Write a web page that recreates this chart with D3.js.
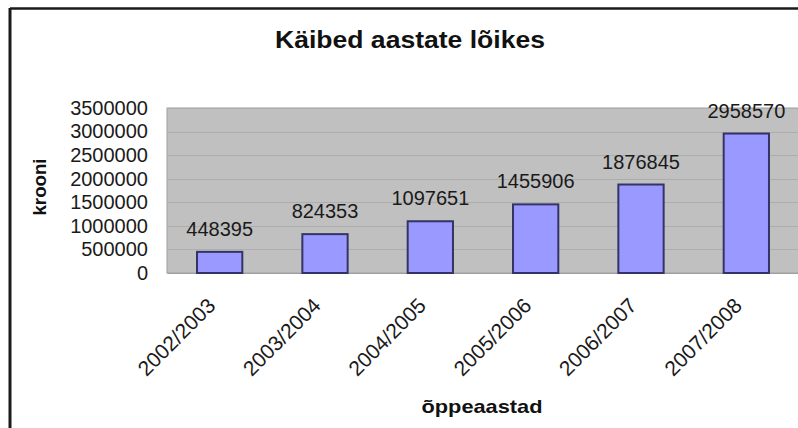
<!DOCTYPE html>
<html><head><meta charset="utf-8">
<script src="https://cdn.jsdelivr.net/npm/d3@7"></script>
<style>body{margin:0;background:#fff}svg{display:block}</style>
</head><body>
<svg id="c" width="798" height="428"></svg>
<script>
const categories = ["2002/2003","2003/2004","2004/2005","2005/2006","2006/2007","2007/2008"];
const values = [448395, 824353, 1097651, 1455906, 1876845, 2958570];
const yTicks = [0,500000,1000000,1500000,2000000,2500000,3000000,3500000];
const title = "Käibed aastate lõikes";
const yTitle = "krooni";
const xTitle = "õppeaastad";

const svg = d3.select("#c");
const font = "'Liberation Sans', Arial, sans-serif";
const m = {left:167, right:799, top:108, bottom:273};

// outer frame
svg.append("line").attr("x1",10).attr("x2",798).attr("y1",8.5).attr("y2",8.5).attr("stroke","#1a1a1a").attr("stroke-width",2.5);
svg.append("line").attr("x1",10).attr("x2",10).attr("y1",8).attr("y2",428).attr("stroke","#1a1a1a").attr("stroke-width",3);

const x = d3.scaleBand().domain(categories).range([m.left, m.right]).paddingInner(0.57).paddingOuter(0.285);
const y = d3.scaleLinear().domain([0,3500000]).range([m.bottom, m.top]);

svg.append("rect").attr("x",m.left).attr("y",m.top).attr("width",m.right-m.left).attr("height",m.bottom-m.top)
  .attr("fill","#c0c0c0").attr("stroke","#a0a0a0").attr("stroke-width",1);

svg.append("g").selectAll("line").data(yTicks.slice(1)).join("line")
  .attr("x1",m.left).attr("x2",m.right).attr("y1",d=>Math.round(y(d))+0.5).attr("y2",d=>Math.round(y(d))+0.5)
  .attr("stroke","#adadad").attr("stroke-width",1);

// y axis
const ya = svg.append("g").attr("transform",`translate(${m.left},0)`)
  .call(d3.axisLeft(y).tickValues(yTicks).tickFormat(d3.format("d")).tickSize(0).tickPadding(19));
ya.select(".domain").remove();
ya.selectAll("text").attr("font-family",font).attr("font-size",20).attr("fill","#1a1a1a");

// x axis
const xa = svg.append("g").attr("transform",`translate(0,${m.bottom})`)
  .call(d3.axisBottom(x).tickSize(0).tickPadding(0));
xa.select(".domain").attr("stroke","#a0a0a0");
xa.selectAll("text").attr("font-family",font).attr("font-size",21).attr("fill","#1a1a1a")
  .attr("text-anchor","end").attr("dy",0).attr("y",0)
  .attr("transform","translate(-3,34) rotate(-45)");

// bars
svg.append("g").selectAll("rect").data(values).join("rect")
  .attr("x",(d,i)=>x(categories[i])).attr("width",x.bandwidth())
  .attr("y",d=>y(d)).attr("height",d=>y(0)-y(d))
  .attr("fill","#9999ff").attr("stroke","#333366").attr("stroke-width",2);

svg.append("g").selectAll("text").data(values).join("text")
  .attr("x",(d,i)=>x(categories[i])+x.bandwidth()/2).attr("y",d=>y(d)-16)
  .attr("text-anchor","middle").attr("font-family",font).attr("font-size",20).attr("fill","#1a1a1a")
  .text(d=>d);

svg.append("text").attr("x",410).attr("y",48).attr("text-anchor","middle")
  .attr("font-family",font).attr("font-weight","bold").attr("font-size",23).attr("fill","#111")
  .attr("textLength",270).attr("lengthAdjust","spacingAndGlyphs").text(title);

svg.append("text").attr("transform","translate(46,187) rotate(-90)").attr("text-anchor","middle")
  .attr("font-family",font).attr("font-weight","bold").attr("font-size",19).attr("fill","#111")
  .attr("textLength",57).attr("lengthAdjust","spacingAndGlyphs").text(yTitle);

svg.append("text").attr("x",482).attr("y",413).attr("text-anchor","middle")
  .attr("font-family",font).attr("font-weight","bold").attr("font-size",19).attr("fill","#111")
  .attr("textLength",121).attr("lengthAdjust","spacingAndGlyphs").text(xTitle);
</script>
</body></html>
